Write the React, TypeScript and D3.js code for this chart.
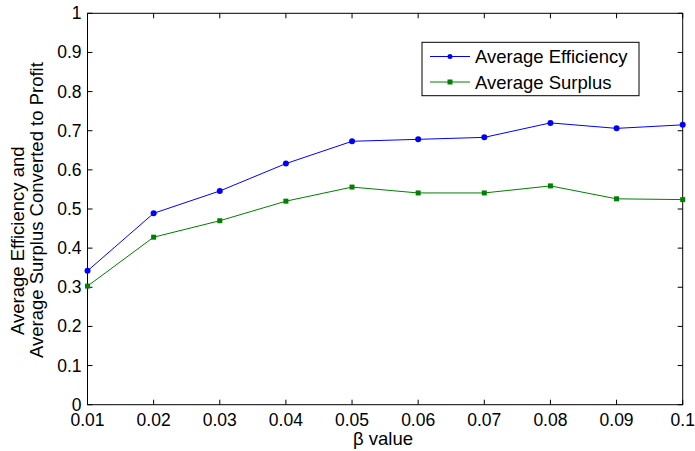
import React, { useRef, useEffect } from 'react';
import * as d3 from 'd3';

const betaValues = [0.01, 0.02, 0.03, 0.04, 0.05, 0.06, 0.07, 0.08, 0.09, 0.1];
const efficiency = [0.342, 0.489, 0.546, 0.616, 0.673, 0.678, 0.683, 0.72, 0.706, 0.715];
const surplus = [0.303, 0.428, 0.470, 0.520, 0.556, 0.541, 0.541, 0.559, 0.526, 0.524];
const xTicks = ['0.01', '0.02', '0.03', '0.04', '0.05', '0.06', '0.07', '0.08', '0.09', '0.1'];
const yTicks = [0, 0.1, 0.2, 0.3, 0.4, 0.5, 0.6, 0.7, 0.8, 0.9, 1];
const seriesNames = ['Average Efficiency', 'Average Surplus'];

const App = () => {
  const svgRef = useRef<SVGSVGElement>(null);

  useEffect(() => {
    const svg = d3.select(svgRef.current);
    svg.selectAll('*').remove();

    const left = 87.5, right = 682.7, top = 13.3, bottom = 404.7;
    const font = 'Liberation Sans, Arial, sans-serif';

    const x = d3.scaleLinear().domain([0.01, 0.1]).range([left, right]);
    const y = d3.scaleLinear().domain([0, 1]).range([bottom, top]);

    // ticks (inward, on all sides)
    const g = svg.append('g');
    xTicks.forEach(t => {
      const xv = x(+t);
      g.append('line').attr('x1', xv).attr('x2', xv).attr('y1', bottom).attr('y2', bottom - 5).attr('stroke', '#000');
      g.append('line').attr('x1', xv).attr('x2', xv).attr('y1', top).attr('y2', top + 5).attr('stroke', '#000');
      g.append('text').attr('x', xv).attr('y', bottom + 21).attr('text-anchor', 'middle')
        .style('font-family', font).style('font-size', '17.5px').text(t);
    });
    yTicks.forEach(t => {
      const yv = y(t);
      g.append('line').attr('x1', left).attr('x2', left + 5).attr('y1', yv).attr('y2', yv).attr('stroke', '#000');
      g.append('line').attr('x1', right).attr('x2', right - 5).attr('y1', yv).attr('y2', yv).attr('stroke', '#000');
      g.append('text').attr('x', left - 6).attr('y', yv + 6).attr('text-anchor', 'end')
        .style('font-family', font).style('font-size', '17.5px').text(d3.format('~g')(t));
    });

    g.append('rect').attr('x', left).attr('y', top).attr('width', right - left).attr('height', bottom - top)
      .attr('fill', 'none').attr('stroke', '#000').attr('stroke-width', 1);

    const line = d3.line<number>().x((d, i) => x(betaValues[i])).y(d => y(d));

    svg.append('path').datum(efficiency).attr('d', line).attr('fill', 'none').attr('stroke', '#0000ff').attr('stroke-width', 1);
    svg.append('path').datum(surplus).attr('d', line).attr('fill', 'none').attr('stroke', '#008000').attr('stroke-width', 1);

    svg.selectAll('.eff').data(efficiency).enter().append('circle')
      .attr('cx', (d, i) => x(betaValues[i])).attr('cy', d => y(d)).attr('r', 3).attr('fill', '#0000ff');
    svg.selectAll('.sur').data(surplus).enter().append('rect')
      .attr('x', (d, i) => x(betaValues[i]) - 2.5).attr('y', d => y(d) - 2.5)
      .attr('width', 5).attr('height', 5).attr('fill', '#008000');

    // legend
    const lg = svg.append('g');
    lg.append('rect').attr('x', 422).attr('y', 42.3).attr('width', 217).attr('height', 53.4)
      .attr('fill', '#fff').attr('stroke', '#000');
    const colors = ['#0000ff', '#008000'];
    seriesNames.forEach((name, i) => {
      const ly = 56.5 + i * 25.5;
      lg.append('line').attr('x1', 430).attr('x2', 470).attr('y1', ly).attr('y2', ly).attr('stroke', colors[i]);
      if (i === 0) lg.append('circle').attr('cx', 450).attr('cy', ly).attr('r', 2.5).attr('fill', colors[i]);
      else lg.append('rect').attr('x', 447.5).attr('y', ly - 2.5).attr('width', 5).attr('height', 5).attr('fill', colors[i]);
      lg.append('text').attr('x', 475).attr('y', ly + 6.5).style('font-family', font).style('font-size', '18.5px').text(name);
    });

    // axis labels
    svg.append('text').attr('x', 383).attr('y', 445).attr('text-anchor', 'middle')
      .style('font-family', font).style('font-size', '18.5px').text('β value');
    svg.append('text').attr('transform', 'translate(23.5, 335) rotate(-90)')
      .style('font-family', font).style('font-size', '18.5px').text('Average Efficiency and');
    svg.append('text').attr('transform', 'translate(43, 358) rotate(-90)')
      .style('font-family', font).style('font-size', '18.5px').text('Average Surplus Converted to Profit');
  }, []);

  return <svg ref={svgRef} width={695} height={451} style={{ position: 'absolute', left: 0, top: 0 }} />;
};

export default App;
